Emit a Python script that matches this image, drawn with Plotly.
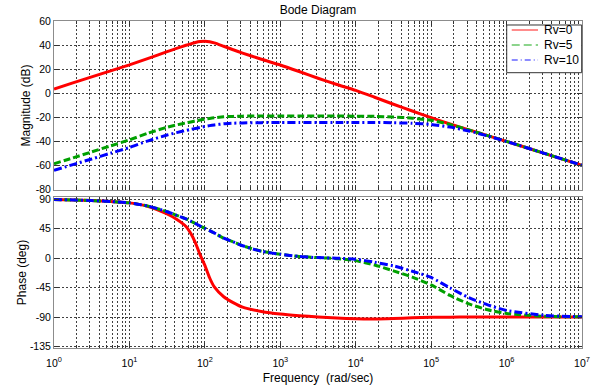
import plotly.graph_objects as go

# Frequency grid (rad/sec)
freq = [1, 1.778, 3.162, 5.623, 10, 17.78, 31.62, 42.17, 56.23, 64.94, 74.99,
        86.60, 100, 115.5, 133.4, 177.8, 237.1, 316.2, 562.3, 1000, 1778, 3162,
        5623, 1e4, 17783, 31623, 56234, 1e5, 177828, 316228, 562341, 1e6,
        3162278, 1e7]

# Magnitude (dB)
mag_rv0 = [3.5, 8.5, 13.5, 18.5, 23.5, 29.0, 34.5, 37.2, 39.8, 41.0, 42.1,
           42.9, 43.2, 42.8, 41.8, 39.0, 36.1, 33.3, 28.2, 23.4, 18.0, 12.4,
           7.2, 2.3, -3.4, -9.2, -14.8, -20.4, -25.6, -30.5, -35.3, -40.1,
           -50.0, -60.0]
mag_rv5 = [-58.7, -53.8, -48.8, -43.8, -38.8, -33.2, -28.3, -26.4, -24.7, -23.9,
           -23.1, -22.3, -21.6, -21.0, -20.5, -19.7, -19.3, -19.1, -19.0, -19.0,
           -19.0, -19.0, -19.0, -19.1, -19.3, -19.8, -20.8, -22.6, -26.0, -30.6,
           -35.3, -40.1, -50.0, -60.0]
mag_rv10 = [-64.2, -59.4, -54.7, -49.9, -45.2, -39.6, -34.8, -32.8, -31.0, -30.1,
            -29.3, -28.5, -27.7, -27.0, -26.4, -25.5, -25.0, -24.7, -24.5, -24.4,
            -24.4, -24.4, -24.4, -24.4, -24.4, -24.6, -25.0, -26.0, -28.2, -31.4,
            -35.6, -40.2, -50.0, -60.0]

# Phase (deg)
ph_rv0 = [89.5, 89.0, 88.0, 86.5, 84.5, 79.0, 67.5, 59.5, 48.5, 38.0, 23.5,
          5.0, -11.0, -30.0, -44.0, -59.0, -68.0, -75.0, -81.5, -85.5, -88.0,
          -90.0, -91.5, -92.7, -93.0, -92.3, -91.2, -90.5, -90.2, -90.0, -90.0,
          -90.0, -90.0, -90.0]
ph_rv5 = [89.5, 89.0, 88.0, 86.5, 84.5, 79.5, 71.0, 65.5, 60.0, 56.5, 53.0,
          49.0, 45.5, 42.0, 38.5, 30.5, 25.0, 19.0, 10.5, 6.0, 2.5, 0.8, -0.8,
          -3.8, -10.5, -19.5, -29.0, -41.0, -57.0, -70.0, -79.0, -84.5, -89.0,
          -89.8]
ph_rv10 = [89.5, 89.0, 88.0, 86.5, 84.5, 79.5, 71.0, 65.5, 60.0, 56.5, 53.0,
           49.0, 45.5, 42.0, 38.5, 30.5, 25.0, 19.0, 10.5, 6.0, 2.5, 0.8, 0.0,
           -1.6, -6.3, -11.8, -20.0, -29.5, -45.5, -60.5, -71.5, -80.0, -87.5,
           -89.6]

names = ["Rv=0", "Rv=5", "Rv=10"]
colors = ["#ff0000", "#00a000", "#0000ff"]
legend_colors = ["rgba(255,0,0,0.45)", "rgba(0,160,0,0.45)", "rgba(0,0,255,0.45)"]
dashes = ["solid", "7px,3px", "8px,3px,2px,3px"]
legend_dashes = ["solid", "8px,4px", "6px,3px,1px,3px"]

x_tickvals = [1, 10, 100, 1e3, 1e4, 1e5, 1e6, 1e7]
x_ticktext = ["10<sup>0</sup>", "10<sup>1</sup>", "10<sup>2</sup>", "10<sup>3</sup>",
              "10<sup>4</sup>", "10<sup>5</sup>", "10<sup>6</sup>", "10<sup>7</sup>"]
mag_ticks = [-80, -60, -40, -20, 0, 20, 40, 60]
mag_ticktext = ["-80", "-60", "-40", "-20", "0", "20", "40", "60"]
ph_ticks = [-135, -90, -45, 0, 45, 90]
ph_ticktext = ["-135", "-90", "-45", "0", "45", "90"]

minor_vals = [m * 10 ** d for d in range(7) for m in range(2, 10)]

fig = go.Figure()

for mags, phs, c, dsh, nm in zip([mag_rv0, mag_rv5, mag_rv10],
                                 [ph_rv0, ph_rv5, ph_rv10], colors, dashes, names):
    fig.add_trace(go.Scatter(x=freq, y=mags, mode="lines", name=nm, showlegend=False,
                             line=dict(color=c, width=3, dash=dsh, shape="spline",
                                       smoothing=0.6),
                             xaxis="x", yaxis="y"))
    fig.add_trace(go.Scatter(x=freq, y=phs, mode="lines", name=nm, showlegend=False,
                             line=dict(color=c, width=3, dash=dsh, shape="spline",
                                       smoothing=0.6),
                             xaxis="x2", yaxis="y2"))

grid_col = "rgba(30,30,30,0.85)"
frame_col = "#8c8c8c"
font_fam = "Liberation Sans, Arial, sans-serif"
tick_font = dict(family=font_fam, size=10.5, color="black")

xcommon = dict(type="log", range=[0, 7], showline=True, linecolor=frame_col,
               linewidth=1, mirror="allticks", ticks="inside", ticklen=5,
               tickcolor="#333", tickvals=x_tickvals, ticktext=x_ticktext,
               showgrid=True, gridcolor=grid_col, griddash="2px,2px", gridwidth=1,
               zeroline=False, tickfont=tick_font, automargin=False,
               minor=dict(tickvals=minor_vals, showgrid=True, gridcolor=grid_col,
                          griddash="2px,2px", gridwidth=1, ticks="inside",
                          ticklen=3, tickcolor="#333"))

ycommon = dict(showline=True, linecolor=frame_col, linewidth=1, mirror="allticks",
               ticks="inside", ticklen=5, tickcolor="#333", showgrid=True,
               gridcolor=grid_col, griddash="2px,2px", gridwidth=1,
               zeroline=False, tickfont=tick_font, automargin=False)

# Legend box drawn in paper coordinates
leg_x0, leg_x1, leg_y0, leg_y1 = 0.8574, 0.9994, 0.8419, 0.9878
leg_rows = [0.9725, 0.9266, 0.8807]
shapes = [dict(type="rect", xref="paper", yref="paper", x0=leg_x0, x1=leg_x1,
               y0=leg_y0, y1=leg_y1, fillcolor="white",
               line=dict(color="#333", width=1), layer="above")]
annotations = []
for yy, c, dsh, nm in zip(leg_rows, legend_colors, legend_dashes, names):
    shapes.append(dict(type="line", xref="paper", yref="paper", x0=0.8669, x1=0.9167,
                       y0=yy, y1=yy, line=dict(color=c, width=2, dash=dsh),
                       layer="above"))
    annotations.append(dict(text=nm, xref="paper", yref="paper", x=0.9245, y=yy,
                            xanchor="left", yanchor="middle", showarrow=False,
                            font=dict(family=font_fam, size=12, color="black")))

fig.update_layout(
    width=600, height=391,
    margin=dict(l=54, r=18, t=21, b=43),
    paper_bgcolor="white", plot_bgcolor="white",
    font=dict(family=font_fam, size=11, color="black"),
    showlegend=False,
    title=dict(text="Bode Diagram", x=0.5, xref="paper", y=0.975, yanchor="middle",
               xanchor="center", font=dict(size=12, color="black")),
    xaxis=dict(**xcommon, anchor="y", showticklabels=False),
    xaxis2=dict(**xcommon, anchor="y2", matches="x", ticklabelstandoff=5,
                title=dict(text="Frequency\u00a0 (rad/sec)", standoff=6,
                           font=dict(size=12))),
    yaxis=dict(**ycommon, domain=[0.4832, 1.0], range=[-80.5, 60],
               tickvals=mag_ticks, ticktext=mag_ticktext,
               title=dict(text="Magnitude (dB)", standoff=2, font=dict(size=12))),
    yaxis2=dict(**ycommon, domain=[0.0, 0.4618], range=[-137.4, 93.5],
                tickvals=ph_ticks, ticktext=ph_ticktext,
                title=dict(text="Phase (deg)", standoff=0, font=dict(size=12))),
    shapes=shapes,
    annotations=annotations,
)

fig.write_html("out.html")
